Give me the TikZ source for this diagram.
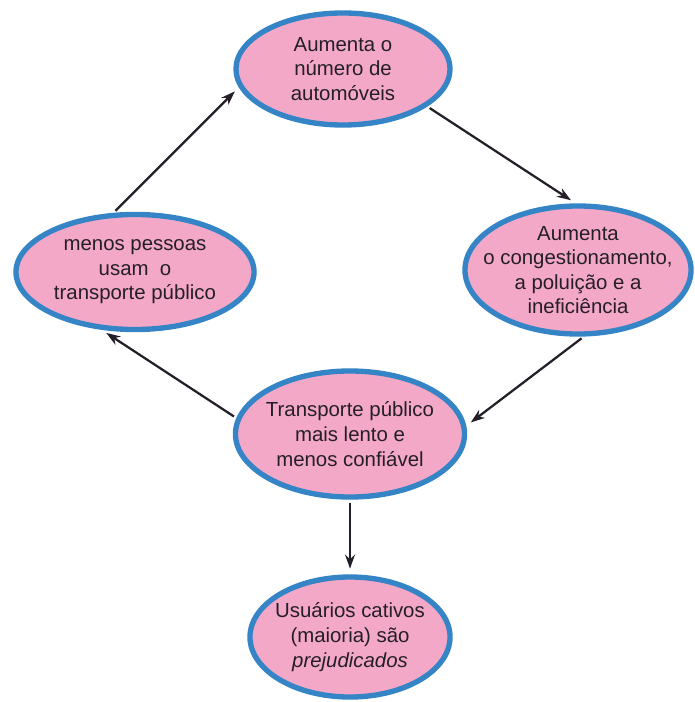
\documentclass[tikz,border=0pt]{standalone}
\usepackage{fontspec}
\setmainfont{Liberation Sans}
\usetikzlibrary{shapes.geometric, arrows.meta}
\definecolor{bubblefill}{RGB}{244,168,200}
\definecolor{bubbleline}{RGB}{52,132,198}
\definecolor{inkgray}{RGB}{35,30,40}
\begin{document}
\begin{tikzpicture}[x=0.025cm, y=-0.025cm,
  bubble/.style={ellipse, draw=bubbleline, fill=bubblefill, line width=3.8pt, inner sep=-40pt,
    align=center, text=inkgray, font=\fontsize{14.5}{17.5}\selectfont},
  link/.style={-{Stealth[length=10pt,width=7pt]}, line width=1.6pt, draw=inkgray, shorten <=2pt, shorten >=4pt}]
\useasboundingbox (0,0) rectangle (695,702);
\node[bubble, minimum width=5.35cm, minimum height=2.8cm] (top) at (343,69) {Aumenta o\\número de\\automóveis};
\node[bubble, minimum width=5.65cm, minimum height=3.2cm] (right) at (578,270) {Aumenta\\o congestionamento,\\a poluição e a\\ineficiência};
\node[bubble, minimum width=5.95cm, minimum height=2.875cm] (left) at (135,272) {menos pessoas\\usam\ \ o\\transporte público};
\node[bubble, minimum width=5.725cm, minimum height=3.15cm] (middle) at (350,434) {Transporte público\\mais lento e\\menos confiável};
\node[bubble, minimum width=5cm, minimum height=3cm] (bottom) at (350,637) {Usuários cativos\\(maioria) são\\\textit{prejudicados}};
\draw[link] (top.-24) -- (right.92);
\draw[link] (right.-85) -- (middle.4);
\draw[link] (middle.172) -- (left.-120);
\draw[link] (left.110) -- (top.190);
\draw[link] (middle.-90) -- (bottom.90);
\end{tikzpicture}
\end{document}
